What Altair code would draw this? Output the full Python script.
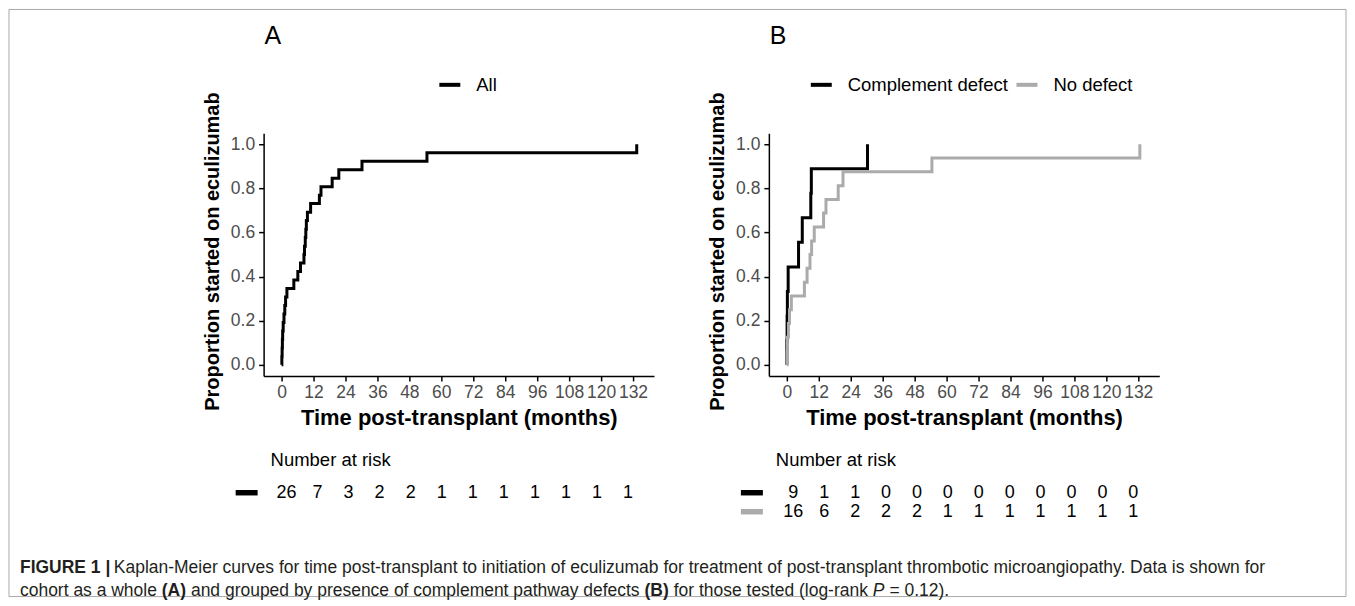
import altair as alt
import pandas as pd

# ---------------- data ----------------
tick_months = [0, 12, 24, 36, 48, 60, 72, 84, 96, 108, 120, 132]
y_ticks = [0.0, 0.2, 0.4, 0.6, 0.8, 1.0]

# Panel A: all patients (time in months, cumulative proportion started)
all_times = [0, 0.1, 0.2, 0.3, 0.4, 0.6, 0.9, 1.2, 1.5, 2.0, 4.6, 6.1, 7.1,
             8.4, 8.6, 8.9, 9.1, 9.3, 9.7, 10.9, 14.2, 14.8, 19.0, 21.5,
             30.2, 54.6, 133.4]
all_prop = [0, 0.038, 0.077, 0.115, 0.154, 0.192, 0.231, 0.269, 0.308, 0.346,
            0.385, 0.423, 0.462, 0.500, 0.538, 0.577, 0.615, 0.654, 0.692,
            0.731, 0.769, 0.808, 0.846, 0.885, 0.923, 0.962, 1.0]

# Panel B: complement defect / no defect
comp_times = [0, 0.0, 0.1, 0.2, 0.5, 4.4, 5.8, 9.0, 9.2, 30.3]
comp_prop = [0, 0.111, 0.222, 0.333, 0.444, 0.556, 0.667, 0.778, 0.889, 1.0]
nodef_times = [0, 0.1, 0.2, 0.6, 1.0, 1.7, 6.6, 7.6, 8.7, 9.3, 10.3, 13.8,
               14.7, 19.3, 21.1, 54.5, 132.6]
nodef_prop = [0, 0.062, 0.125, 0.188, 0.25, 0.312, 0.375, 0.438, 0.5, 0.562,
              0.625, 0.688, 0.75, 0.812, 0.875, 0.938, 1.0]

# Numbers at risk at each tick
risk_all = [26, 7, 3, 2, 2, 1, 1, 1, 1, 1, 1, 1]
risk_comp = [9, 1, 1, 0, 0, 0, 0, 0, 0, 0, 0, 0]
risk_nodef = [16, 6, 2, 2, 2, 1, 1, 1, 1, 1, 1, 1]

groups_a = ["All"]
groups_b = ["Complement defect", "No defect"]
colors_a = ["#000000"]
colors_b = ["#000000", "#ABABAB"]

FONT = "Liberation Sans"


def curve_df(pairs):
    rows = []
    for g, ts, ps in pairs:
        for i, (t, p) in enumerate(zip(ts, ps)):
            rows.append({"group": g, "time": t, "prop": p, "i": i})
    return pd.DataFrame(rows)


def risk_df(pairs):
    rows = []
    for r, (g, ns) in enumerate(pairs):
        for t, n in zip(tick_months, ns):
            rows.append({"group": g, "row": r, "time": t, "n": n})
    return pd.DataFrame(rows)


def txt(s, x, y, size, weight="normal", style="normal", color="black",
        font=FONT, align="left", baseline="middle"):
    return alt.Chart(pd.DataFrame({"t": [s]})).mark_text(
        align=align, baseline=baseline, fontSize=size, fontWeight=weight,
        fontStyle=style, color=color, font=font
    ).encode(x=alt.value(x), y=alt.value(y), text="t:N")


W, H = 391, 243


def panel(curves, risk, groups, colors, letter, legend_x, risk_range, extra=None):
    cscale = alt.Scale(domain=groups, range=colors)
    km = alt.Chart(curves).mark_line(interpolate="step-after", strokeWidth=3).encode(
        x=alt.X("time:Q",
                scale=alt.Scale(domain=[-6.75, 139.9], nice=False, zero=False),
                axis=alt.Axis(values=tick_months, format="d",
                              title="Time post-transplant (months)",
                              titleFont=FONT, titleFontSize=22, titleFontWeight="bold",
                              titleColor="black", titlePadding=6,
                              labelFont=FONT, labelFontSize=17.5, labelColor="#4D4D4D",
                              labelPadding=3, labelOverlap=False, labelFlush=False,
                              tickSize=5, tickColor="black", tickWidth=1.5,
                              domainColor="black", domainWidth=1.5, grid=False)),
        y=alt.Y("prop:Q",
                scale=alt.Scale(domain=[-0.05, 1.05], nice=False, zero=False),
                axis=alt.Axis(values=y_ticks, format=".1f",
                              title="Proportion started on eculizumab",
                              titleFont=FONT, titleFontSize=20, titleFontWeight="bold",
                              titleColor="black", titlePadding=8, titleY=118,
                              labelFont=FONT, labelFontSize=17.5, labelColor="#4D4D4D",
                              labelPadding=4, labelFlush=False,
                              tickSize=5, tickColor="black", tickWidth=1.5,
                              domainColor="black", domainWidth=1.5, grid=False)),
        color=alt.Color("group:N", scale=cscale,
                        legend=alt.Legend(title=None, orient="none",
                                          legendX=legend_x, legendY=-61,
                                          direction="horizontal", symbolType="stroke",
                                          symbolSize=441, symbolStrokeWidth=4,
                                          labelFont=FONT, labelFontSize=18.5,
                                          labelColor="black", labelOffset=14,
                                          labelLimit=400,
                                          columnPadding=0, padding=0)),
        order="i:Q",
    )
    rtext = alt.Chart(risk).mark_text(font=FONT, fontSize=18, color="black",
                                      baseline="middle").encode(
        x=alt.X("time:Q", scale=alt.Scale(domain=[0, 132], range=risk_range), axis=None),
        y=alt.Y("row:Q", scale=alt.Scale(domain=[0, 1], range=[360, 379]), axis=None),
        text="n:Q",
    )
    dash = alt.Chart(risk[risk["time"] == 0]).mark_rule(strokeWidth=5.5).encode(
        x=alt.value(-28), x2=alt.value(-6),
        y=alt.Y("row:Q", scale=alt.Scale(domain=[0, 1], range=[360, 379]), axis=None),
        color=alt.Color("group:N", scale=cscale, legend=None),
    )
    layers = [km, rtext, dash,
              txt(letter, 1, -89, 25, baseline="alphabetic"),
              txt("Number at risk", 7, 333, 18.5, baseline="alphabetic")]
    if extra:
        layers += extra
    return alt.layer(*layers).resolve_scale(x="independent", y="independent").properties(
        width=W, height=H)


# frame and caption live in panel A's coordinate space (view origin at page 263,132)
frame = alt.Chart(pd.DataFrame({"t": [0]})).mark_rect(
    fillOpacity=0, stroke="#A8A8A8", strokeWidth=1).encode(
    x=alt.value(-255), x2=alt.value(1084), y=alt.value(-124), y2=alt.value(464))

cap_size = 17.5
cap_col = "#231F20"
cy1, cy2 = 435, 458
caption = [
    txt("FIGURE 1", -244, cy1, cap_size, weight="bold", color=cap_col),
    txt("|", -158.4, cy1, cap_size, weight="bold", color=cap_col),
    txt("Kaplan-Meier curves for time post-transplant to initiation of eculizumab for "
        "treatment of post-transplant thrombotic microangiopathy. Data is shown for",
        -150, cy1, cap_size, color=cap_col),
    txt("cohort as a whole", -244, cy2, cap_size, color=cap_col),
    txt("(A)", -102, cy2, cap_size, weight="bold", color=cap_col),
    txt("and grouped by presence of complement pathway defects", -72.8, cy2, cap_size,
        color=cap_col),
    txt("(B)", 381.5, cy2, cap_size, weight="bold", color=cap_col),
    txt("for those tested (log-rank", 410.7, cy2, cap_size, color=cap_col),
    txt("P", 610.1, cy2, cap_size, style="italic", color=cap_col),
    txt("= 0.12).", 626.7, cy2, cap_size, color=cap_col),
]

curves_a = curve_df([("All", all_times, all_prop)])
curves_b = curve_df([("Complement defect", comp_times, comp_prop),
                     ("No defect", nodef_times, nodef_prop)])
rk_a = risk_df([("All", risk_all)])
rk_b = risk_df([("Complement defect", risk_comp), ("No defect", risk_nodef)])

panel_a = panel(curves_a, rk_a, groups_a, colors_a, "A", 174, [22.8, 365],
                extra=[frame] + caption)
panel_b = panel(curves_b, rk_b, groups_b, colors_b, "B", 40, [24.5, 365])

chart = alt.hconcat(panel_a, panel_b, spacing=115, bounds="flush").resolve_scale(
    color="independent").properties(padding=0).configure_view(stroke="transparent")

chart.save("out.html", embed_options={"renderer": "svg", "actions": False})
